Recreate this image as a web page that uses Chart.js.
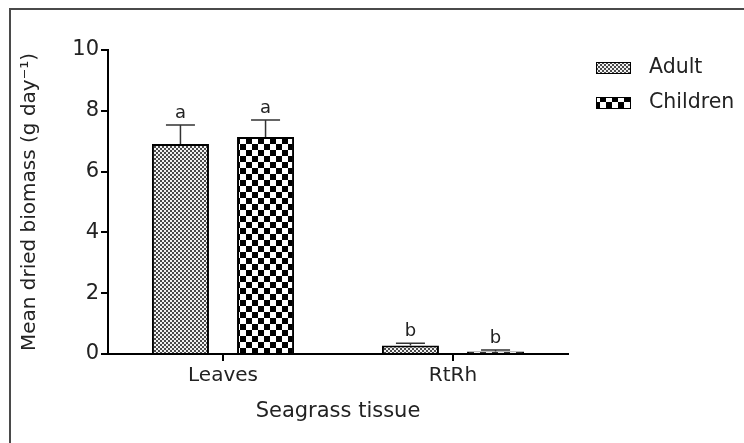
<!DOCTYPE html>
<html>
<head>
<meta charset="utf-8">
<script src="https://cdn.jsdelivr.net/npm/chart.js@4"></script>
<style>
  html, body { margin: 0; padding: 0; background: #fff; }
  #wrap { position: relative; width: 744px; height: 443px; }
</style>
</head>
<body>
<div id="wrap"><canvas id="c" width="744" height="443"></canvas></div>
<script>
// ---- data ----
const categories = ['Leaves', 'RtRh'];
const seriesNames = ['Adult', 'Children'];
const adultMeans = [6.91, 0.28];
const adultErr = [0.62, 0.07];
const childrenMeans = [7.14, 0.08];
const childrenErr = [0.56, 0.05];
const adultLetters = ['a', 'b'];
const childrenLetters = ['a', 'b'];
const yTicks = [0, 2, 4, 6, 8, 10];
const yTitle = 'Mean dried biomass (g day\u207B\u00B9)';
const xTitle = 'Seagrass tissue';

const FONT = "'DejaVu Sans', Verdana, sans-serif";

function makePattern(cell, c1, c2) {
  const p = document.createElement('canvas');
  p.width = cell * 2; p.height = cell * 2;
  const g = p.getContext('2d');
  g.fillStyle = c2; g.fillRect(0, 0, cell * 2, cell * 2);
  g.fillStyle = c1;
  g.fillRect(0, 0, cell, cell);
  g.fillRect(cell, cell, cell, cell);
  return document.getElementById('c').getContext('2d').createPattern(p, 'repeat');
}
const adultPattern = makePattern(2, '#4a4a4a', '#f2f2f2');
const childPattern = makePattern(6, '#000000', '#ffffff');

const errors = [adultErr, childrenErr];
const letters = [adultLetters, childrenLetters];

const framePlugin = {
  id: 'frame',
  beforeDraw(chart) {
    const ctx = chart.ctx;
    ctx.save();
    ctx.fillStyle = '#fff';
    ctx.fillRect(0, 0, chart.width, chart.height);
    ctx.strokeStyle = '#4a4a4a';
    ctx.lineWidth = 2;
    ctx.beginPath();
    ctx.moveTo(10, chart.height);
    ctx.lineTo(10, 9);
    ctx.lineTo(chart.width, 9);
    ctx.stroke();
    ctx.restore();
  }
};

const errPlugin = {
  id: 'errbars',
  afterDatasetsDraw(chart) {
    const ctx = chart.ctx;
    const y = chart.scales.y;
    ctx.save();
    chart.data.datasets.forEach((ds, di) => {
      const meta = chart.getDatasetMeta(di);
      meta.data.forEach((bar, i) => {
        const v = ds.data[i];
        const top = y.getPixelForValue(v + errors[di][i]);
        const x = bar.x;
        ctx.strokeStyle = '#333';
        ctx.lineWidth = 1.5;
        ctx.beginPath();
        ctx.moveTo(x, bar.y);
        ctx.lineTo(x, top);
        ctx.moveTo(x - 14.5, top);
        ctx.lineTo(x + 14.5, top);
        ctx.stroke();
        ctx.fillStyle = '#222';
        ctx.font = '18px ' + FONT;
        ctx.textAlign = 'center';
        ctx.textBaseline = 'alphabetic';
        ctx.fillText(letters[di][i], x, top - 7);
      });
    });
    ctx.restore();
  }
};

const legendPlugin = {
  id: 'customLegend',
  afterDraw(chart) {
    const ctx = chart.ctx;
    const pats = [adultPattern, childPattern];
    ctx.save();
    seriesNames.forEach((name, i) => {
      const by = 62 + i * 35;
      ctx.fillStyle = pats[i];
      ctx.fillRect(596, by, 35, 12);
      ctx.strokeStyle = '#000';
      ctx.lineWidth = 1;
      ctx.strokeRect(596.5, by + 0.5, 34, 11);
      ctx.fillStyle = '#222';
      ctx.font = '20.5px ' + FONT;
      ctx.textAlign = 'left';
      ctx.textBaseline = 'middle';
      ctx.fillText(name, 649, by + 6);
    });
    ctx.restore();
  }
};

new Chart(document.getElementById('c'), {
  type: 'bar',
  data: {
    labels: categories,
    datasets: [
      { label: seriesNames[0], data: adultMeans, backgroundColor: adultPattern,
        borderColor: '#000', borderWidth: 2 },
      { label: seriesNames[1], data: childrenMeans, backgroundColor: childPattern,
        borderColor: '#000', borderWidth: 2 }
    ]
  },
  options: {
    responsive: false,
    animation: false,
    devicePixelRatio: 1,
    datasets: { bar: { categoryPercentage: 0.74, barPercentage: 0.67 } },
    layout: { padding: { top: 50, right: 176, bottom: 0, left: 0 } },
    plugins: { legend: { display: false }, tooltip: { enabled: false } },
    scales: {
      x: {
        afterFit(s) { s.height = 89; },
        grid: { display: true, drawOnChartArea: false, drawTicks: true, tickLength: 7,
                offset: false, color: '#000', lineWidth: 2 },
        border: { display: true, color: '#000', width: 2 },
        ticks: { color: '#222', font: { family: FONT, size: 20 }, padding: 3 },
        title: { display: true, text: xTitle, color: '#222',
                 font: { family: FONT, size: 21 }, padding: { top: 0, bottom: 19 } }
      },
      y: {
        min: 0, max: 10,
        afterFit(s) { s.width = 108; },
        afterBuildTicks(s) { s.ticks = yTicks.map(v => ({ value: v })); },
        grid: { display: true, drawOnChartArea: false, drawTicks: true, tickLength: 7,
                color: '#000', lineWidth: 2 },
        border: { display: true, color: '#000', width: 2 },
        ticks: { color: '#222', font: { family: FONT, size: 21 }, padding: 2 },
        title: { display: true, text: yTitle, color: '#222',
                 font: { family: FONT, size: 20 }, padding: { top: 18, bottom: 0 } }
      }
    }
  },
  plugins: [framePlugin, errPlugin, legendPlugin]
});
</script>
</body>
</html>
